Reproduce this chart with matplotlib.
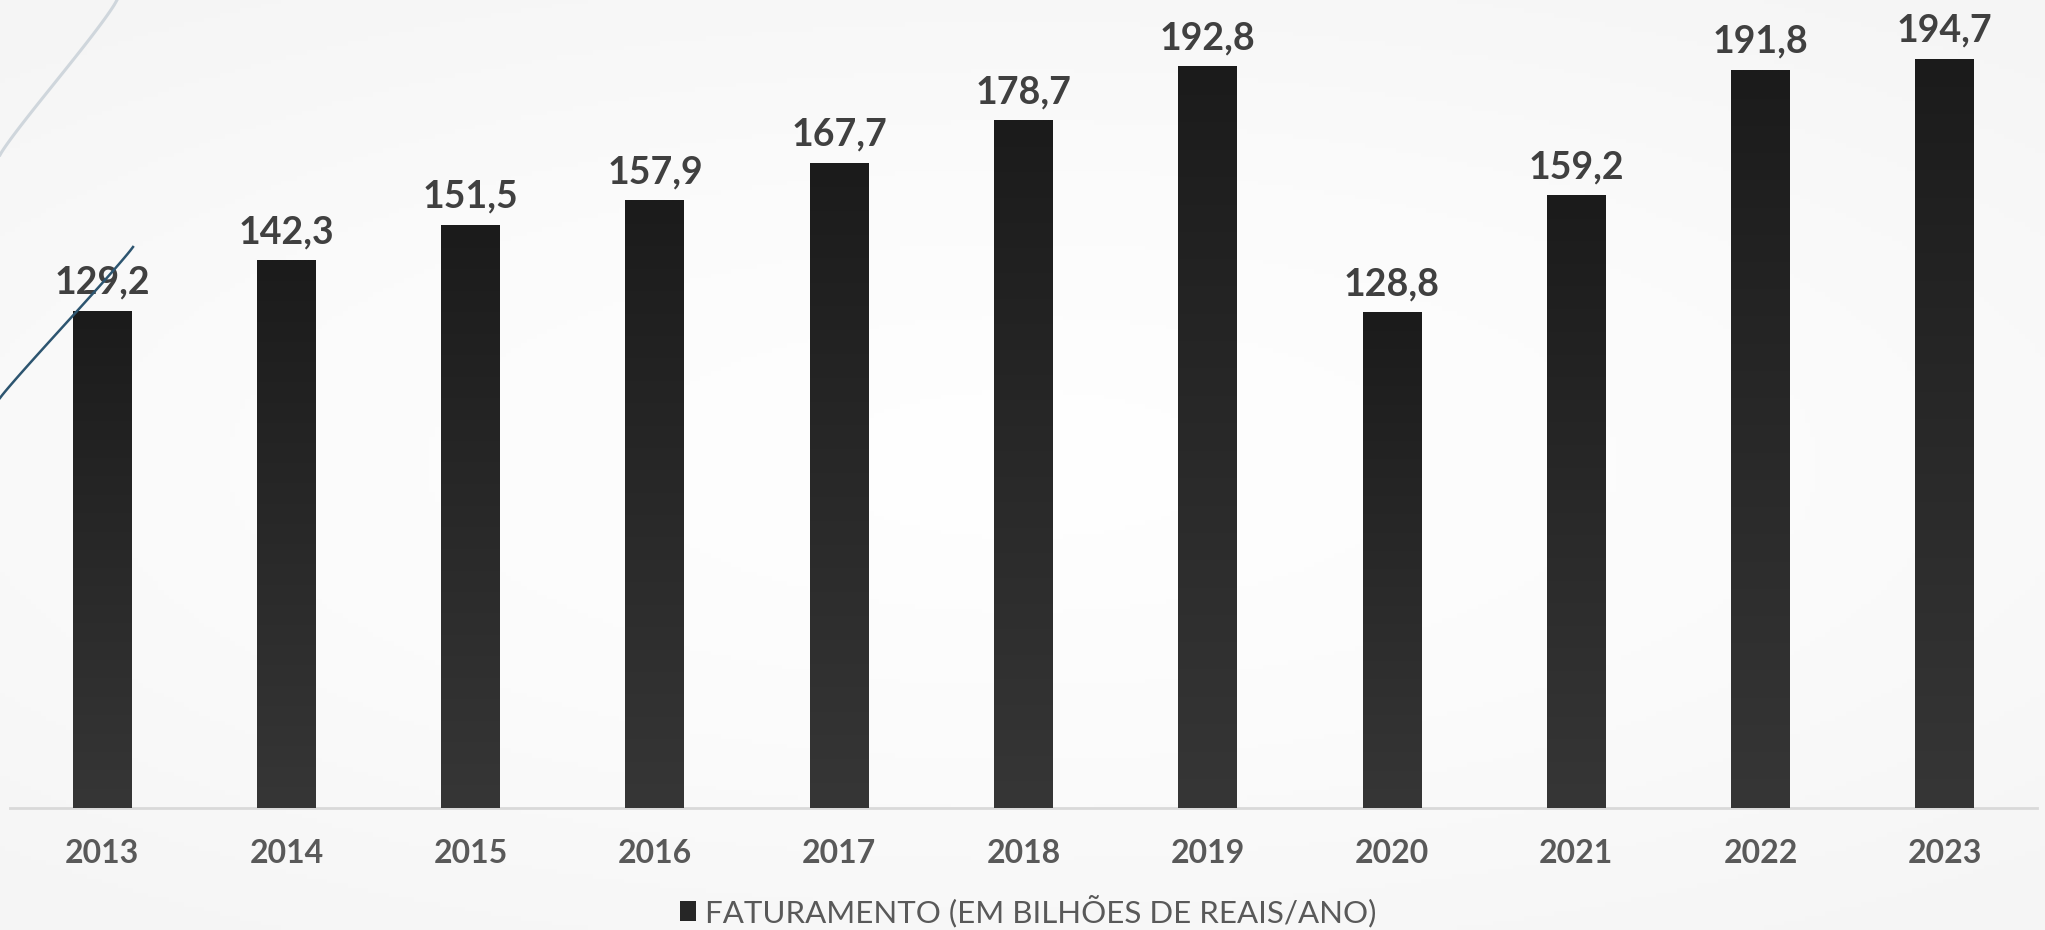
import numpy as np
import matplotlib.pyplot as plt
from matplotlib.colors import LinearSegmentedColormap
from matplotlib.lines import Line2D
from matplotlib.patches import Patch

# data
anos = ["2013", "2014", "2015", "2016", "2017", "2018",
        "2019", "2020", "2021", "2022", "2023"]
faturamento = [129.2, 142.3, 151.5, 157.9, 167.7, 178.7,
               192.8, 128.8, 159.2, 191.8, 194.7]
serie_nome = "FATURAMENTO (EM BILHÕES DE REAIS/ANO)"

plt.rcParams['font.family'] = ['Lato', 'DejaVu Sans']

fig = plt.figure(figsize=(20.45, 9.30), dpi=100)
fig.patch.set_facecolor("#fafafa")

# soft light background glow (white centre, pale grey edges)
bg = fig.add_axes([0, 0, 1, 1], zorder=-10)
yy, xx = np.mgrid[-1:1:200j, -1:1:400j]
glow = np.sqrt((xx * 0.9) ** 2 + (yy * 1.1) ** 2)
bg_cmap = LinearSegmentedColormap.from_list("bg", ["#ffffff", "#fbfbfb", "#f5f5f5"])
bg.imshow(glow, cmap=bg_cmap, vmin=0, vmax=1.4, aspect="auto",
          extent=[0, 1, 0, 1])
bg.set_axis_off()

# decorative curves top-left
t = np.linspace(0, 1, 50)
fig.add_artist(Line2D(117 / 2045 * (1 - t) ** 1.1, 1 - (155 / 930) * t ** 0.9,
                      color="#cfd6dc", lw=2.2, transform=fig.transFigure))
fig.add_artist(Line2D(133 / 2045 * (1 - t) ** 1.05, 1 - (247 + 151 * t ** 0.95) / 930,
                      color="#2d5570", lw=1.8, transform=fig.transFigure))

ax = fig.add_axes([10 / 2045, (930 - 808) / 930, 2027 / 2045, 808 / 930])
ax.set_facecolor("none")
x = np.arange(len(anos))
bars = ax.bar(x, faturamento, width=0.32, color="#262626", zorder=2)

# vertical gradient inside each bar: darker on top, lighter at the base
bar_cmap = LinearSegmentedColormap.from_list("g", ["#1b1b1b", "#363636"])
grad = np.linspace(0, 1, 256).reshape(-1, 1)
for b in bars:
    bx, by = b.get_x(), b.get_y()
    im = ax.imshow(grad, cmap=bar_cmap, aspect="auto", origin="upper",
                   extent=[bx, bx + b.get_width(), by, by + b.get_height()], zorder=3)
    im.set_clip_path(b)

for xi, v in zip(x, faturamento):
    ax.annotate(f"{v:.1f}".replace(".", ","), (xi, v), xytext=(0, 8),
                textcoords="offset points", ha="center", va="bottom",
                fontsize=27, fontweight="bold", color="#404040")

ax.set_xlim(-0.5, len(anos) - 0.5)
ax.set_ylim(0, 210)
ax.set_xticks(x)
ax.set_xticklabels(anos, fontsize=23, fontweight="bold", color="#595959")
ax.tick_params(axis="x", length=0, pad=22)
ax.set_yticks([])
for s in ["top", "right", "left"]:
    ax.spines[s].set_visible(False)
ax.spines["bottom"].set_color("#d9d9d9")
ax.spines["bottom"].set_linewidth(2)

fig.legend(handles=[Patch(facecolor="#262626", label=serie_nome)],
           loc="center", bbox_to_anchor=(0.503, 1 - 911 / 930), frameon=False,
           handlelength=0.5, handleheight=0.6, handletextpad=0.3,
           prop={"weight": "normal", "size": 22.5}, labelcolor="#595959")

fig.savefig("out.png", dpi=100, facecolor=fig.get_facecolor())
